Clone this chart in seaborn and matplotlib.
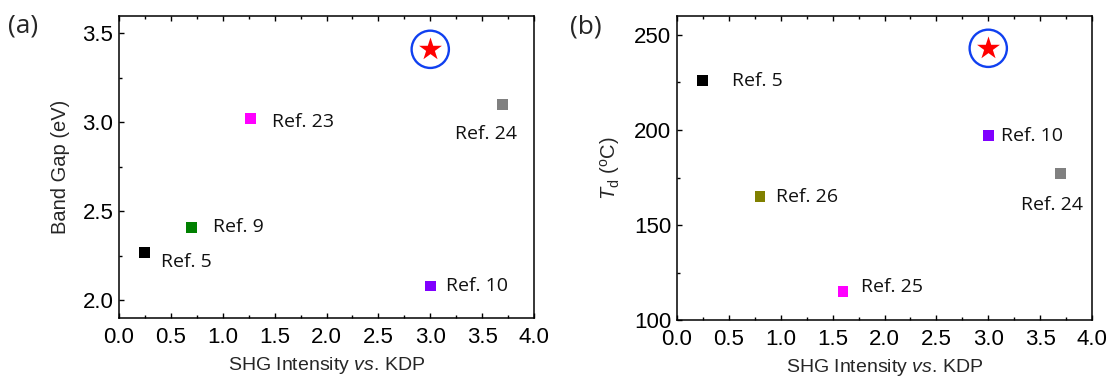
import matplotlib
matplotlib.use('Agg')
import matplotlib.pyplot as plt
import seaborn as sns
import pandas as pd
from matplotlib.ticker import MultipleLocator

# ---------------- data ----------------
a_refs = ['Ref. 5', 'Ref. 9', 'Ref. 23', 'Ref. 10', 'Ref. 24']
a_shg = [0.25, 0.70, 1.27, 3.00, 3.70]
a_gap = [2.27, 2.41, 3.02, 2.08, 3.10]
a_colors = ['#000000', '#008000', '#ff00ff', '#8000ff', '#808080']
a_star_x = [3.00]
a_star_y = [3.41]

b_refs = ['Ref. 5', 'Ref. 26', 'Ref. 25', 'Ref. 10', 'Ref. 24']
b_shg = [0.25, 0.80, 1.60, 3.00, 3.70]
b_td = [226, 165, 115, 197, 177]
b_colors = ['#000000', '#808000', '#ff00ff', '#8000ff', '#808080']
b_star_x = [3.00]
b_star_y = [243]

x_ticks = [0.0, 0.5, 1.0, 1.5, 2.0, 2.5, 3.0, 3.5, 4.0]
a_yticks = [2.0, 2.5, 3.0, 3.5]
b_yticks = [100, 150, 200, 250]

# label offsets in pixels (dx, dy with dy positive downward)
a_offsets = [(16, 10), (21, 0), (21, 3), (16, 0), (-48, 30)]
b_offsets = [(29, 0), (16, 0), (18, -5), (13, 0), (-40, 31)]

# ---------------- style ----------------
sns.set_style('ticks')
plt.rcParams['font.family'] = ['Liberation Sans', 'DejaVu Sans']
plt.rcParams['mathtext.fontset'] = 'custom'
plt.rcParams['mathtext.rm'] = 'Liberation Sans'
plt.rcParams['mathtext.it'] = 'Liberation Sans:italic'
plt.rcParams['mathtext.bf'] = 'Liberation Sans:bold'

fig = plt.figure(figsize=(11.08, 3.76), dpi=100)
W, H = 1108, 376
ax1 = fig.add_axes([119 / W, 1 - 318 / H, 415 / W, 302.5 / H])
ax2 = fig.add_axes([677 / W, 1 - 320 / H, 415 / W, 304 / H])

BLUE = '#1040f0'
RED = '#ff0000'


def panel(ax, refs, xs, ys, colors, sx, sy, offsets, ylim, yticks, yminor, ylabel):
    df = pd.DataFrame({'x': xs, 'y': ys, 'ref': refs})
    sns.scatterplot(data=df, x='x', y='y', hue='ref', palette=dict(zip(refs, colors)),
                    marker='s', s=62, linewidth=0, legend=False, ax=ax, zorder=3)
    ax.scatter(sx, sy, marker='o', s=720, facecolors='none', edgecolors=BLUE,
               linewidths=1.7, zorder=3)
    sns.scatterplot(x=sx, y=sy, marker='*', s=300, color=RED, linewidth=0,
                    legend=False, ax=ax, zorder=4)
    for r, x, y, (dx, dy) in zip(refs, xs, ys, offsets):
        ax.annotate(r, (x, y), xytext=(dx, -dy), textcoords='offset pixels',
                    ha='left', va='center', fontsize=14, family='Open Sans',
                    color='#111111')
    ax.set_xlim(0, 4.0)
    ax.set_ylim(*ylim)
    ax.set_xticks(x_ticks)
    ax.set_yticks(yticks)
    ax.xaxis.set_minor_locator(MultipleLocator(0.25))
    ax.yaxis.set_minor_locator(MultipleLocator(yminor))
    ax.tick_params(which='both', direction='in', top=True, right=False,
                   width=1.0, labelsize=16, colors='black')
    ax.tick_params(which='major', length=3.8)
    ax.tick_params(which='minor', length=2.4)
    ax.tick_params(axis='x', pad=6.5)
    ax.tick_params(axis='y', pad=4)
    for sp in ax.spines.values():
        sp.set_visible(True)
        sp.set_linewidth(1.1)
        sp.set_color('black')
    ax.set_xlabel(r'SHG Intensity $\mathit{vs}$. KDP', fontsize=14, labelpad=5)
    ax.set_ylabel(ylabel, fontsize=14.5, labelpad=9)


panel(ax1, a_refs, a_shg, a_gap, a_colors, a_star_x, a_star_y, a_offsets,
      (1.9, 3.6), a_yticks, 0.25, 'Band Gap (eV)')
ax1.yaxis.set_major_formatter(matplotlib.ticker.FormatStrFormatter('%.1f'))
panel(ax2, b_refs, b_shg, b_td, b_colors, b_star_x, b_star_y, b_offsets,
      (100, 260), b_yticks, 25, r'$\mathit{T}_\mathrm{d}$ ($^\mathrm{o}$C)')
for ax in (ax1, ax2):
    ax.xaxis.set_major_formatter(matplotlib.ticker.FormatStrFormatter('%.1f'))

fig.text(8 / W, 1 - 26 / H, '(a)', fontsize=19, family='Open Sans', ha='left', va='center')
fig.text(570 / W, 1 - 27 / H, '(b)', fontsize=19, family='Open Sans', ha='left', va='center')

fig.savefig('out.png', dpi=100)
